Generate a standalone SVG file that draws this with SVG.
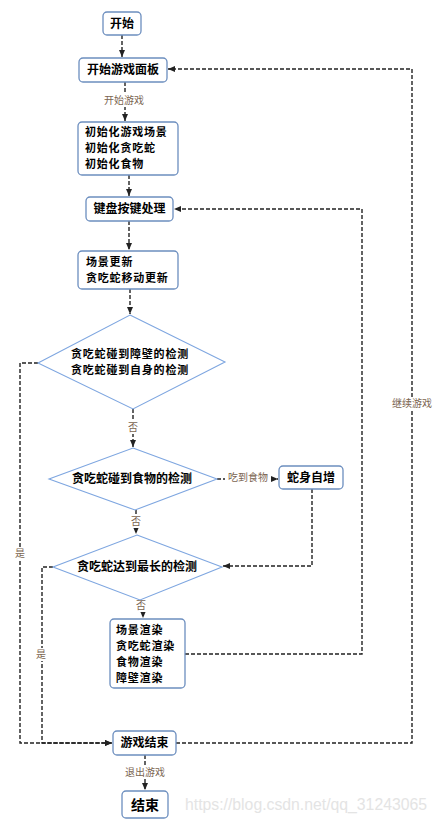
<svg xmlns="http://www.w3.org/2000/svg" width="437" height="823" viewBox="0 0 437 823">
<style>
.box{fill:#fff;stroke:#6c8ebf;stroke-width:1.3}
.dia{fill:#fff;stroke:#7ea6e0;stroke-width:1.1}
.t{font-family:"Noto Sans CJK SC",sans-serif;font-size:12px;font-weight:bold;fill:#000}
.m{font-size:11px;letter-spacing:0.8px}
.c{text-anchor:middle}
.lbl{font-family:"Noto Sans CJK SC",sans-serif;font-size:10px;fill:#7a6450;text-anchor:middle}
.ln{fill:none;stroke:#222;stroke-width:1.4;stroke-dasharray:4 2}
.wm{font-family:"Liberation Sans",Arial,sans-serif;font-size:16px;fill:#e4e4e4}
</style>
<defs>
<marker id="ah" markerWidth="8" markerHeight="8" refX="7" refY="4" orient="auto" markerUnits="userSpaceOnUse">
<path d="M0,1 L7,4 L0,7 Z" fill="#222"/>
</marker>
</defs>
<rect width="437" height="823" fill="#fff"/>

<g id="connectors">
<path class="ln" d="M122,35 V57" marker-end="url(#ah)"/>
<path class="ln" d="M125,82 V121" marker-end="url(#ah)"/>
<path class="ln" d="M129,175 V196" marker-end="url(#ah)"/>
<path class="ln" d="M129,221 V250" marker-end="url(#ah)"/>
<path class="ln" d="M130,289 V314" marker-end="url(#ah)"/>
<path class="ln" d="M133,409 V447" marker-end="url(#ah)"/>
<path class="ln" d="M136,510 V534" marker-end="url(#ah)"/>
<path class="ln" d="M143,600 V618" marker-end="url(#ah)"/>
<path class="ln" d="M217,479 H278" marker-end="url(#ah)"/>
<path class="ln" d="M312,489 V566 H223" marker-end="url(#ah)"/>
<path class="ln" d="M38,363 H20 V743 H112" marker-end="url(#ah)"/>
<path class="ln" d="M53,567 H42 V743 H112" marker-end="url(#ah)"/>
<path class="ln" d="M185,654 H362 V209 H174" marker-end="url(#ah)"/>
<path class="ln" d="M176,743 H412 V69 H168" marker-end="url(#ah)"/>
<path class="ln" d="M145,755 V790" marker-end="url(#ah)"/>
<g id="labels">
<rect x="101" y="93" width="46" height="14" fill="#fff"/>
<text class="lbl" x="124" y="104">开始游戏</text>
<rect x="127" y="421" width="12" height="13" fill="#fff"/>
<text class="lbl" x="133" y="431">否</text>
<rect x="130" y="515" width="12" height="13" fill="#fff"/>
<text class="lbl" x="136" y="525">否</text>
<rect x="135" y="599" width="12" height="13" fill="#fff"/>
<text class="lbl" x="141" y="609">否</text>
<rect x="225" y="471" width="46" height="13" fill="#fff"/>
<text class="lbl" x="248" y="481">吃到食物</text>
<rect x="14" y="547" width="12" height="13" fill="#fff"/>
<text class="lbl" x="20" y="557">是</text>
<rect x="35" y="648" width="12" height="13" fill="#fff"/>
<text class="lbl" x="41" y="658">是</text>
<rect x="389" y="397" width="46" height="13" fill="#fff"/>
<text class="lbl" x="412" y="407">继续游戏</text>
<rect x="122" y="766" width="46" height="13" fill="#fff"/>
<text class="lbl" x="145" y="776">退出游戏</text>
</g>
</g>

<g id="start">
<rect class="box" x="103" y="12" width="38" height="23" rx="4"/>
<text class="t c" x="122" y="28">开始</text>
</g>
<g id="panel">
<rect class="box" x="79" y="58" width="88" height="24" rx="4"/>
<text class="t c" x="123" y="74">开始游戏面板</text>
</g>
<g id="init">
<rect class="box" x="78" y="122" width="100" height="53" rx="4"/>
<text class="t m" x="85" y="136">初始化游戏场景</text>
<text class="t m" x="85" y="152">初始化贪吃蛇</text>
<text class="t m" x="85" y="168">初始化食物</text>
</g>
<g id="keyboard">
<rect class="box" x="86" y="197" width="87" height="24" rx="4"/>
<text class="t c" x="129.5" y="213">键盘按键处理</text>
</g>
<g id="update">
<rect class="box" x="78" y="251" width="100" height="38" rx="4"/>
<text class="t m" x="86" y="266">场景更新</text>
<text class="t m" x="86" y="282">贪吃蛇移动更新</text>
</g>
<g id="check-collision">
<polygon class="dia" points="130,315 225,362 133,409 38,363"/>
<text class="t m c" x="130" y="358">贪吃蛇碰到障壁的检测</text>
<text class="t m c" x="130" y="374">贪吃蛇碰到自身的检测</text>
</g>
<g id="check-food">
<polygon class="dia" points="133,448 217,479 135,510 49,479"/>
<text class="t c" x="132" y="483">贪吃蛇碰到食物的检测</text>
</g>
<g id="grow">
<rect class="box" x="279" y="466" width="64" height="23" rx="4"/>
<text class="t c" x="311" y="482">蛇身自增</text>
</g>
<g id="check-length">
<polygon class="dia" points="137,535 222,567 140,600 53,567"/>
<text class="t c" x="137" y="571">贪吃蛇达到最长的检测</text>
</g>
<g id="render">
<rect class="box" x="110" y="619" width="75" height="69" rx="4"/>
<text class="t m" x="116" y="634">场景渲染</text>
<text class="t m" x="116" y="650">贪吃蛇渲染</text>
<text class="t m" x="116" y="666">食物渲染</text>
<text class="t m" x="116" y="682">障壁渲染</text>
</g>
<g id="gameover">
<rect class="box" x="113" y="731" width="63" height="24" rx="4"/>
<text class="t c" x="144.5" y="747">游戏结束</text>
</g>
<g id="end">
<rect class="box" x="122" y="791" width="46" height="27" rx="4"/>
<text class="t c" x="145" y="810" style="font-size:14px">结束</text>
</g>
<text class="wm" x="185" y="810" textLength="242" lengthAdjust="spacingAndGlyphs">https://blog.csdn.net/qq_31243065</text>
</svg>
